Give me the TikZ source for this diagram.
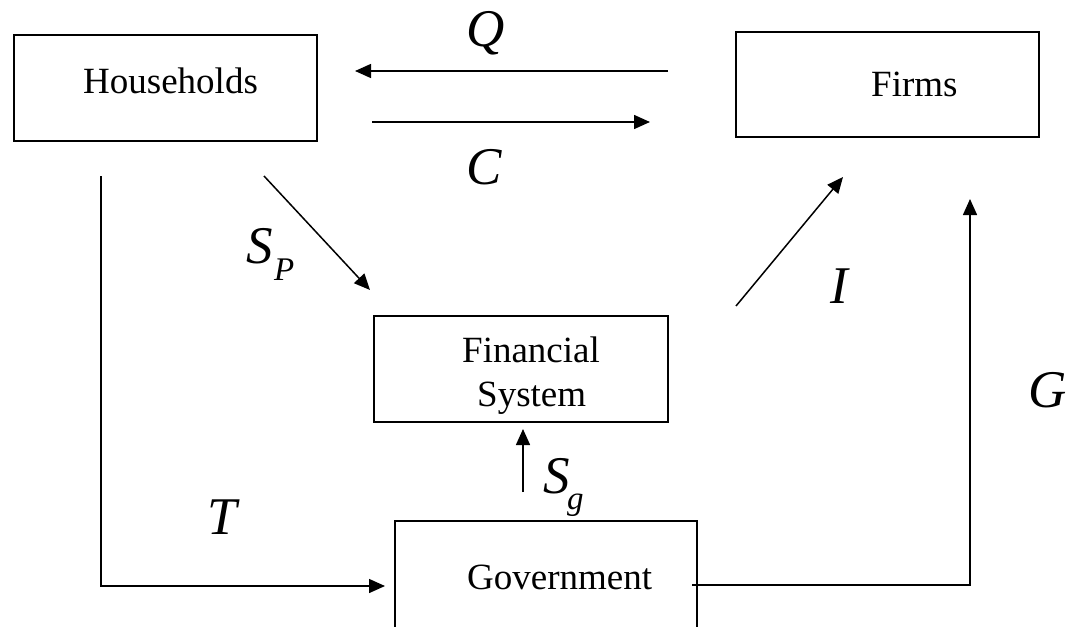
\documentclass[tikz,border=0pt]{standalone}
\usepackage{fontspec}
\setmainfont{Liberation Serif}
\usetikzlibrary{arrows.meta}
\begin{document}
\begin{tikzpicture}[x=1pt,y=-1pt,
  box/.style={draw, line width=1.8pt, inner sep=0pt, outer sep=0pt},
  txt/.style={inner sep=0pt, anchor=base west, font=\fontsize{37}{44}\selectfont},
  var/.style={inner sep=0pt, anchor=base west, font=\fontsize{53}{60}\selectfont\itshape},
  sub/.style={inner sep=0pt, anchor=base west, font=\fontsize{33}{40}\selectfont\itshape},
  flow/.style={line width=1.5pt, -{Triangle[length=16pt,width=14pt]}},
  plain/.style={line width=1.5pt}]
\useasboundingbox (0,0) rectangle (1070,626);
% boxes
\node[box, minimum width=303pt, minimum height=106pt] (hh) at (165.5,88) {};
\node[box, minimum width=303pt, minimum height=105pt] (firms) at (887.5,84.5) {};
\node[box, minimum width=294pt, minimum height=106pt] (fin) at (521,369) {};
\node[box, minimum width=302pt, minimum height=139pt] (gov) at (546,590.5) {};
% box texts
\node[txt] (thh) at (83,93) {Households};
\node[txt] (tfirms) at (871,96) {Firms};
\node[txt] (tfin1) at (462,362) {Financial};
\node[txt] (tfin2) at (477,406) {System};
\node[txt] (tgov) at (467,589) {Government};
% connector end points
\coordinate (q1) at (668,71);  \coordinate (q2) at (355,71);
\coordinate (c1) at (372,122); \coordinate (c2) at (650,122);
\coordinate (sp1) at (264,176); \coordinate (sp2) at (370,290);
\coordinate (i1) at (736,306); \coordinate (i2) at (843,177);
\coordinate (sg1) at (523,492); \coordinate (sg2) at (523,429);
\coordinate (t1) at (101,176); \coordinate (t2) at (385,586);
\coordinate (g1) at (692,585); \coordinate (g2) at (970,199);
% connectors
\draw[flow] (q1) -- (q2);
\draw[flow] (c1) -- (c2);
\draw[flow] (sp1) -- (sp2);
\draw[flow] (i1) -- (i2);
\draw[flow] (sg1) -- (sg2);
\draw[flow] (t1) |- (t2);
\draw[flow] (g1) -| (g2);
% labels
\node[var] (lq) at (466,47) {Q};
\node[var] (lc) at (466,184) {C};
\node[var] (lt) at (207,534) {T};
\node[var] (li) at (830,303) {I};
\node[var] (lg) at (1028,407) {G};
\node[var] (lsp) at (246,263) {S};
\node[sub] (lspp) at (274,280) {P};
\node[var] (lsg) at (543,493) {S};
\node[sub] (lsgg) at (567,509) {g};
\end{tikzpicture}
\end{document}
